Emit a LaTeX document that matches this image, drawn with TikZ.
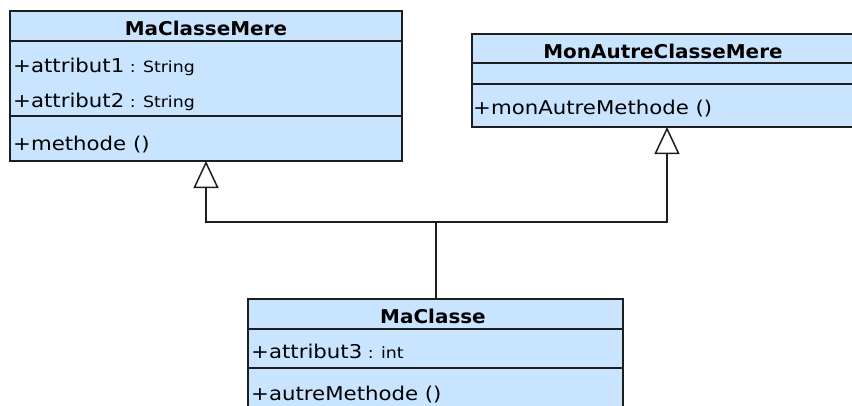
\documentclass[tikz,border=0pt]{standalone}
\usepackage{fontspec}
\usetikzlibrary{arrows.meta}
\newfontfamily\umlfont[FakeStretch=1.12]{DejaVu Sans}
\newfontfamily\umltitle[FakeStretch=1.05]{DejaVu Sans}
\definecolor{UMLBlue}{RGB}{201,228,255}
\definecolor{UMLLine}{RGB}{30,30,30}
\newcommand{\typ}[1]{{\fontsize{15.5}{15.5}\selectfont #1}}

\begin{document}
\begin{tikzpicture}[x=1pt, y=-1pt,
    cls/.style={rectangle, draw=UMLLine, line width=1.5pt, fill=UMLBlue,
                inner sep=0pt, outer sep=0pt},
    ttl/.style={anchor=base, inner sep=0pt,
                font=\umltitle\bfseries\fontsize{19}{19}\selectfont},
    mbr/.style={anchor=base west, inner sep=0pt,
                font=\umlfont\fontsize{19}{19}\selectfont},
    sep/.style={draw=UMLLine, line width=1.5pt},
    inh/.style={-{Triangle[length=27pt, width=25pt, fill=white]},
                draw=UMLLine, line width=1.5pt}
  ]
  \clip (0,0) rectangle (852,405);

  % MaClasseMere
  \node[cls, minimum width=392pt, minimum height=150pt] (mere) at (206,86) {};
  \node[ttl] (mereT) at (206,35) {MaClasseMere};
  \draw[sep] (mere.west |- 0,41) -- (mere.east |- 0,41);
  \node[mbr] (mereA1) at (13,72) {+attribut1\typ{ : String}};
  \node[mbr] (mereA2) at (13,107) {+attribut2\typ{ : String}};
  \draw[sep] (mere.west |- 0,116) -- (mere.east |- 0,116);
  \node[mbr] (mereM1) at (13,150) {+methode ()};

  % MonAutreClasseMere
  \node[cls, minimum width=390pt, minimum height=93pt] (autre) at (667,80.5) {};
  \node[ttl] (autreT) at (663,58) {MonAutreClasseMere};
  \draw[sep] (autre.west |- 0,63) -- (autre.east |- 0,63);
  \draw[sep] (autre.west |- 0,84) -- (autre.east |- 0,84);
  \node[mbr] (autreM1) at (473,114) {+monAutreMethode ()};

  % MaClasse
  \node[cls, minimum width=375pt, minimum height=131pt] (fille) at (435.5,364.5) {};
  \node[ttl] (filleT) at (433,323) {MaClasse};
  \draw[sep] (fille.west |- 0,329) -- (fille.east |- 0,329);
  \node[mbr] (filleA1) at (251,358) {+attribut3\typ{ : int}};
  \draw[sep] (fille.west |- 0,368) -- (fille.east |- 0,368);
  \node[mbr] (filleM1) at (251,400) {+autreMethode ()};

  % heritage
  \coordinate (j) at (436,222);
  \draw[sep] (fille.north -| j) -- (j);
  \draw[inh] (j) -| (mere.south);
  \draw[inh] (j) -| (autre.south);
\end{tikzpicture}
\end{document}
